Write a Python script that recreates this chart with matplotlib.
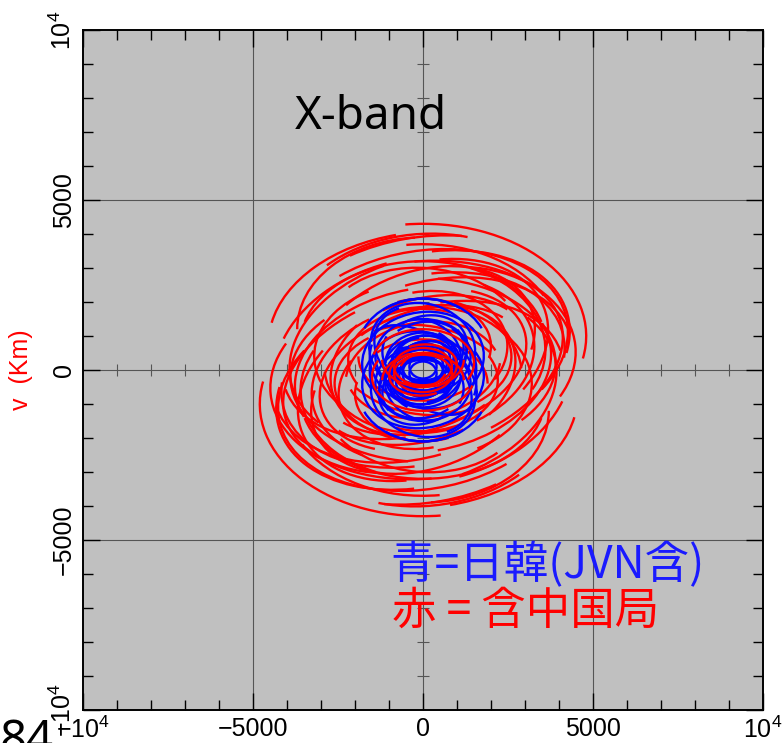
import numpy as np
import matplotlib
matplotlib.use('Agg')
from matplotlib import pyplot as plt
from matplotlib.patches import Arc

plt.rcParams['font.family'] = ['Liberation Sans', 'DejaVu Sans']
plt.rcParams['mathtext.fontset'] = 'custom'
plt.rcParams['mathtext.rm'] = 'Liberation Sans'

# uv-tracks, km: semi-axis u, semi-axis v, centre offset in v, tilt (deg), arc start/end (deg)
# each track is drawn together with its conjugate (-u, -v)
red_a = [4800, 4300, 4000, 4500, 3800, 4200, 3600, 3300, 3000, 2800, 4600, 3900,
         2500, 2200, 3500, 4100, 3200, 4400, 2700, 3700, 2000, 4250, 3450, 2900,
         4700, 4400, 4000, 3800, 3400, 4300, 3100, 2600, 4550, 3600, 2300, 1900]
red_b = [3300, 2800, 2700, 2900, 2600, 2600, 2400, 2300, 2100, 2000, 3000, 2500,
         1800, 1500, 2500, 2900, 2200, 3100, 1900, 2700, 1400, 2750, 2350, 2050,
         3100, 2900, 2800, 2500, 2300, 2700, 2000, 1700, 3050, 2600, 1600, 1300]
red_c = [1000, 700, 600, 300, 500, -300, 800, 400, 900, 200, -500, -200,
         500, 300, -800, 1100, -400, 200, -600, 1200, 700, 0, 300, -200,
         800, 500, 900, -100, 600, -900, -300, 400, 1000, -600, -200, 400]
red_tilt = [0, 10, 15, 5, 20, 15, 0, 10, -5, 20, 20, 0,
            10, 0, 25, 5, 0, 10, -10, 0, 0, 15, 20, 5,
            10, 15, 0, 10, 20, 20, 15, 0, 5, 0, 10, 0]
red_t1 = [-8, -30, 100, -20, -40, 120, 10, -60, 30, 130, 0, 150,
          -30, 60, 20, 60, -50, 100, 40, 95, -10, 170, 200, 0,
          60, -15, 20, 90, -20, 0, 100, -40, 100, 160, 10, 180]
red_t2 = [99, 130, 200, 90, 60, 230, 170, 40, 150, 250, 80, 260,
          90, 200, 110, 140, 30, 160, 140, 180, 120, 250, 280, 110,
          120, 70, 100, 190, 130, 60, 220, 60, 170, 240, 170, 330]

red_inner_a = [1500, 850, 1200, 700, 1000]
red_inner_b = [1000, 550, 800, 500, 650]
red_inner_c = [200, 100, -300, 0, -100]
red_inner_tilt = [0, 0, 0, 10, 5]
red_inner_t1 = [-20, 0, 0, 200, 120]
red_inner_t2 = [170, 360, 180, 340, 300]

blue_a = [1900, 1800, 1600, 1400, 1300, 1100, 1000, 800, 600, 400,
          1700, 1500, 1200, 900, 1800, 1250, 1000, 700, 1550, 1350, 1150, 950]
blue_b = [1500, 1400, 1300, 1100, 1000, 900, 800, 650, 500, 350,
          1200, 1200, 1000, 700, 1000, 1100, 900, 600, 1250, 1050, 950, 800]
blue_c = [600, 300, -200, 400, -400, 200, 0, 300, -100, 100,
          900, -600, 600, -400, 0, 100, -300, 200, 700, -500, 500, -200]
blue_tilt = [0, 10, -20, 0, 15, 0, 30, 0, 0, 0,
             0, -30, 10, 0, -35, 20, -10, 0, -15, 25, -25, 15]
blue_t1 = [20, -40, 0, 0, 60, -90, 0, 100, 0, 0,
           40, -30, 150, 0, 120, 200, 30, -60, 0, 90, -20, 160]
blue_t2 = [160, 200, 250, 360, 300, 180, 300, 400, 270, 360,
           140, 150, 380, 200, 240, 330, 250, 150, 190, 280, 140, 350]

major_ticks = [-10000, -5000, 0, 5000, 10000]
major_labels = [r'$-10^4$', '\u22125000', '0', '5000', r'$10^4$']
minor_ticks = [t for t in range(-10000, 10001, 1000) if t % 5000 != 0]
axis_cross_ticks = [t for t in range(-9000, 10000, 1000) if t != 0]

fig = plt.figure(figsize=(7.82, 7.43), dpi=100)
ax = fig.add_axes([83 / 782, 1 - 710 / 743, 680 / 782, 680 / 743])
ax.set_facecolor('#c0c0c0')
ax.set_xlim(-10000, 10000)
ax.set_ylim(-10000, 10000)

for g in (-5000, 0, 5000):
    ax.axvline(g, color='#555555', lw=0.8, zorder=1)
    ax.axhline(g, color='#555555', lw=0.8, zorder=1)
ax.plot(axis_cross_ticks, [0] * len(axis_cross_ticks), ls='none', marker='|',
        ms=9, mew=0.8, color='#555555', zorder=1)
ax.plot([0] * len(axis_cross_ticks), axis_cross_ticks, ls='none', marker='_',
        ms=9, mew=0.8, color='#555555', zorder=1)


def draw_tracks(a_list, b_list, c_list, tilt_list, t1_list, t2_list, color, z):
    for a, b, c, tilt, t1, t2 in zip(a_list, b_list, c_list, tilt_list, t1_list, t2_list):
        for sign in (1, -1):
            off = 0 if sign == 1 else 180
            ax.add_patch(Arc((0, sign * c), 2 * a, 2 * b, angle=tilt,
                             theta1=t1 + off, theta2=t2 + off,
                             color=color, lw=1.7, zorder=z))


draw_tracks(red_a, red_b, red_c, red_tilt, red_t1, red_t2, '#ff0000', 2)
draw_tracks(blue_a, blue_b, blue_c, blue_tilt, blue_t1, blue_t2, '#0000ff', 3)
draw_tracks(red_inner_a, red_inner_b, red_inner_c, red_inner_tilt,
            red_inner_t1, red_inner_t2, '#ff0000', 4)

ax.set_xticks(major_ticks)
ax.set_xticklabels(major_labels)
ax.set_yticks(major_ticks)
ax.set_yticklabels(major_labels, rotation=90, va='center')
ax.set_xticks(minor_ticks, minor=True)
ax.set_yticks(minor_ticks, minor=True)
ax.tick_params(which='both', direction='in', top=True, right=True, labelsize=18,
               color='black', width=1.0)
ax.tick_params(which='major', length=12, pad=5)
ax.tick_params(which='minor', length=7)
for s in ax.spines.values():
    s.set_linewidth(1.4)

ax.set_ylabel('v  (Km)', color='red', fontsize=18, labelpad=12)

ax.text(-1530, 7440, 'X-band', fontsize=33, ha='center', va='center',
        family=['Noto Sans', 'DejaVu Sans'], color='black')
ax.text(-970, -5735, '青=日韓(JVN含)', fontsize=32, ha='left', va='center',
        color='#1a1aff', family=['Noto Sans CJK JP', 'DejaVu Sans'])
ax.text(-900, -7090, '赤 = 含中国局', fontsize=32, ha='left', va='center',
        color='#ff0000', family=['Noto Sans CJK JP', 'DejaVu Sans'])

fig.text(0.0, -0.03, '84', fontsize=34, ha='left', va='bottom', color='black',
         family=['Noto Sans', 'DejaVu Sans'])

fig.savefig('out.png', dpi=100)
